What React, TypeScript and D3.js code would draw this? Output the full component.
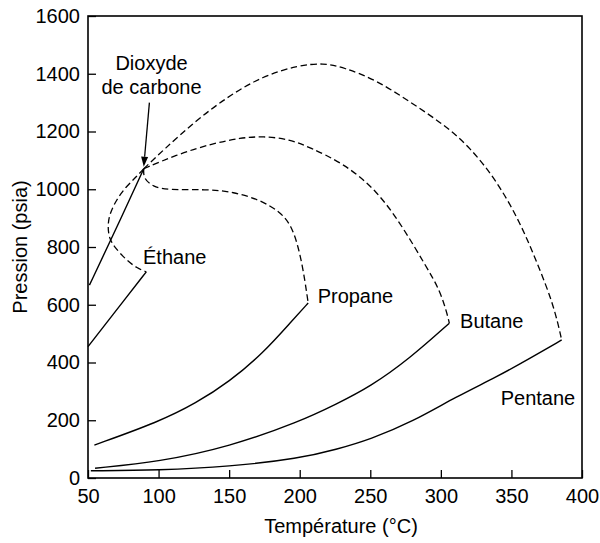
import { useEffect, useRef } from 'react'
import * as d3 from 'd3'

type Pt = [number, number]

// tick values
const xTicks = [50, 100, 150, 200, 250, 300, 350, 400]
const yTicks = [0, 200, 400, 600, 800, 1000, 1200, 1400, 1600]

// vapour pressure curves (solid), [temperature, pressure]
const co2Vapor: Pt[] = [[51, 668], [66, 822], [89.5, 1071]]
const ethaneVapor: Pt[] = [[50, 455], [75.7, 616], [91.3, 714]]
const propaneVapor: Pt[] = [[54.5, 114], [100.5, 195], [126.5, 259], [150, 333], [174, 432], [195, 547], [206, 606]]
const butaneVapor: Pt[] = [[55, 34], [100.5, 56], [150, 108], [200, 195], [226, 256], [250, 316], [278, 414], [306, 536]]
const pentaneVapor: Pt[] = [[52, 25], [100, 27], [150, 39], [200, 68], [226, 99], [250, 134], [280, 195], [311, 282], [340, 351], [363, 414], [385.6, 478]]

// critical loci of the CO2 binaries (dashed)
const co2Ethane: Pt[] = [[89.5, 1071], [84, 1042], [77, 1009], [70, 963], [65, 911], [64, 870], [65, 830], [68.6, 801], [77, 755], [85, 726], [91.3, 714]]
const co2Propane: Pt[] = [[89.5, 1071], [89.2, 1038], [96, 1009], [106, 997], [134, 1000], [153, 991], [172, 963], [186, 922], [194, 876], [199, 801], [202.5, 720], [205, 640], [206, 606]]
const co2Butane: Pt[] = [[89.5, 1071], [115, 1124], [139, 1159], [158, 1178], [174, 1184], [193, 1173], [207, 1145], [231, 1090], [254.5, 997], [273, 870], [289, 737], [299.4, 651], [305, 559], [306, 536]]
const co2Pentane: Pt[] = [[89.5, 1071], [103.4, 1136], [127, 1240], [150.6, 1326], [174, 1392], [198, 1428], [217, 1438], [231, 1422], [254.5, 1378], [278, 1303], [301.7, 1226], [320.6, 1146], [339.6, 1029], [356, 887], [368, 748], [380, 599], [385.6, 478]]

const solidCurves = [co2Vapor, ethaneVapor, propaneVapor, butaneVapor, pentaneVapor]
const dashedCurves = [co2Ethane, co2Propane, co2Butane, co2Pentane]

const width = 600
const height = 543
const margin = { top: 16, right: 18, bottom: 65, left: 88 }
const font = '"Liberation Sans", Arial, Helvetica, sans-serif'

export default function App() {
  const svgRef = useRef<SVGSVGElement>(null)

  useEffect(() => {
    if (!svgRef.current) return
    const svg = d3.select(svgRef.current)
    svg.selectAll('*').remove()

    const x = d3.scaleLinear().domain([50, 400]).range([margin.left, width - margin.right])
    const y = d3.scaleLinear().domain([0, 1600]).range([height - margin.bottom, margin.top])

    // basis spline smooths out the reading noise, still passes through both ends
    const line = d3.line<Pt>()
      .x(d => x(d[0]))
      .y(d => y(d[1]))
      .curve(d3.curveBasis)

    // axes, ticks pointing inward
    const xAxis = svg.append('g')
      .attr('transform', `translate(0,${height - margin.bottom})`)
      .call(d3.axisBottom(x).tickValues(xTicks).tickSizeInner(-8).tickSizeOuter(0).tickPadding(11).tickFormat(d3.format('d')))
    const yAxis = svg.append('g')
      .attr('transform', `translate(${margin.left},0)`)
      .call(d3.axisLeft(y).tickValues(yTicks).tickSizeInner(-8).tickSizeOuter(0).tickPadding(8).tickFormat(d3.format('d')))

    for (const g of [xAxis, yAxis]) {
      g.select('.domain').remove()
      g.selectAll('line').attr('stroke', '#000').attr('stroke-width', 1.3)
      g.selectAll('text').attr('font-family', font).attr('font-size', 20).attr('fill', '#000')
    }

    // frame
    svg.append('rect')
      .attr('x', margin.left)
      .attr('y', margin.top)
      .attr('width', width - margin.left - margin.right)
      .attr('height', height - margin.top - margin.bottom)
      .attr('fill', 'none')
      .attr('stroke', '#000')
      .attr('stroke-width', 1.6)

    svg.append('g')
      .selectAll('path')
      .data(solidCurves)
      .join('path')
      .attr('d', d => line(d))
      .attr('fill', 'none')
      .attr('stroke', '#000')
      .attr('stroke-width', 1.4)

    svg.append('g')
      .selectAll('path')
      .data(dashedCurves)
      .join('path')
      .attr('d', d => line(d))
      .attr('fill', 'none')
      .attr('stroke', '#000')
      .attr('stroke-width', 1.3)
      .attr('stroke-dasharray', '6.5,3.5')

    // labels
    const text = (s: string, t: number, p: number, anchor = 'start') =>
      svg.append('text')
        .attr('x', x(t))
        .attr('y', y(p))
        .attr('text-anchor', anchor)
        .attr('font-family', font)
        .attr('font-size', 20)
        .attr('fill', '#000')
        .text(s)

    text('Dioxyde', 95, 1413, 'middle')
    text('de carbone', 95, 1330, 'middle')
    text('Éthane', 89, 741)
    text('Propane', 212.7, 605)
    text('Butane', 313.6, 518)
    text('Pentane', 342.4, 253)

    // arrow to the CO2 critical point
    const x0 = x(93.5), y0 = y(1300)
    const x1 = x(89.5), y1 = y(1071) - 2
    const ang = Math.atan2(y1 - y0, x1 - x0)
    const headLen = 10, headW = 3.5
    const bx = x1 - headLen * Math.cos(ang), by = y1 - headLen * Math.sin(ang)
    svg.append('line')
      .attr('x1', x0).attr('y1', y0).attr('x2', bx).attr('y2', by)
      .attr('stroke', '#000').attr('stroke-width', 1.3)
    svg.append('path')
      .attr('d', `M${x1},${y1}L${bx - headW * Math.sin(ang)},${by + headW * Math.cos(ang)}L${bx + headW * Math.sin(ang)},${by - headW * Math.cos(ang)}Z`)
      .attr('fill', '#000')

    // axis titles
    svg.append('text')
      .attr('x', 341)
      .attr('y', 533)
      .attr('text-anchor', 'middle')
      .attr('font-family', font)
      .attr('font-size', 20)
      .text('Température (°C)')

    svg.append('text')
      .attr('transform', `translate(27,${(margin.top + height - margin.bottom) / 2}) rotate(-90)`)
      .attr('text-anchor', 'middle')
      .attr('font-family', font)
      .attr('font-size', 20)
      .text('Pression (psia)')
  }, [])

  return (
    <svg
      ref={svgRef}
      width={width}
      height={height}
      style={{ position: 'absolute', left: 0, top: 0, background: '#fff' }}
    />
  )
}
